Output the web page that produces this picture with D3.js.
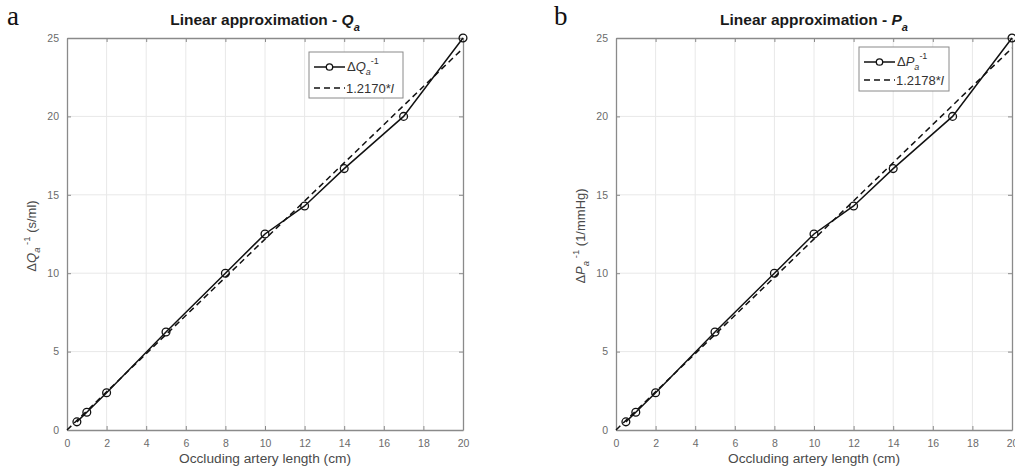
<!DOCTYPE html>
<html>
<head>
<meta charset="utf-8">
<script src="https://cdn.jsdelivr.net/npm/d3@7"></script>
<style>
  body { margin: 0; background: #fff; }
  svg { display: block; }
  text { font-family: "Liberation Sans", Arial, sans-serif; }
</style>
</head>
<body>
<div id="chart"></div>
<script>

// data
let lengths = [0.5, 1, 2, 5, 8, 10, 12, 14, 17, 20];
let dQinv = [0.52, 1.13, 2.38, 6.25, 10, 12.5, 14.29, 16.67, 20, 25];
let dPinv = [0.52, 1.13, 2.38, 6.25, 10, 12.5, 14.29, 16.67, 20, 25];
let slopes = [1.2170, 1.2178];
let xTicks = [0, 2, 4, 6, 8, 10, 12, 14, 16, 18, 20];
let yTicks = [0, 5, 10, 15, 20, 25];

let panels = [
  {letter: "a", sym: "Q", unit: "(s/ml)", values: dQinv, slope: slopes[0], left: 67,
   leg: {x: 309, y: 52, w: 94, h: 46, r1: 15, r2: 36}},
  {letter: "b", sym: "P", unit: "(1/mmHg)", values: dPinv, slope: slopes[1], left: 616,
   leg: {x: 859, y: 47, w: 90, h: 44, r1: 15, r2: 33}}
];

let W = 1015, H = 475;
let plotW = 396, plotTop = 38, plotH = 392;

let svg = d3.select("#chart").append("svg")
  .attr("width", W)
  .attr("height", H);

panels.forEach(p => {

  let g = svg.append("g").attr("transform", "translate(" + p.left + "," + plotTop + ")");

  let x = d3.scaleLinear().domain([0, 20]).range([0, plotW]);
  let y = d3.scaleLinear().domain([0, 25]).range([plotH, 0]);

  // grid
  g.append("g").selectAll("line.gx")
    .data(xTicks.slice(1, -1))
    .enter().append("line")
    .attr("x1", d => x(d)).attr("x2", d => x(d))
    .attr("y1", 0).attr("y2", plotH)
    .attr("stroke", "#e8e8e8").attr("stroke-width", 1);

  g.append("g").selectAll("line.gy")
    .data(yTicks.slice(1, -1))
    .enter().append("line")
    .attr("y1", d => y(d)).attr("y2", d => y(d))
    .attr("x1", 0).attr("x2", plotW)
    .attr("stroke", "#e8e8e8").attr("stroke-width", 1);

  // axes (ticks inward, matlab style)
  let xa = g.append("g").attr("transform", "translate(0," + plotH + ")")
    .call(d3.axisBottom(x).tickValues(xTicks).tickSizeInner(-4).tickSizeOuter(0).tickPadding(10));
  let ya = g.append("g")
    .call(d3.axisLeft(y).tickValues(yTicks).tickSizeInner(-4).tickSizeOuter(0).tickPadding(8));
  let xt = g.append("g")
    .call(d3.axisTop(x).tickValues(xTicks).tickSizeInner(-4).tickSizeOuter(0).tickFormat(""));
  let yr = g.append("g").attr("transform", "translate(" + plotW + ",0)")
    .call(d3.axisRight(y).tickValues(yTicks).tickSizeInner(-4).tickSizeOuter(0).tickFormat(""));

  [xa, ya, xt, yr].forEach(a => {
    a.select(".domain").attr("stroke", "#8a8a8a").attr("stroke-width", 1.3);
    a.selectAll(".tick line").attr("stroke", "#8a8a8a");
    a.selectAll(".tick text").attr("fill", "#6b6b6b").style("font-size", "10.5px");
  });

  // fit line
  let fit = d3.line().x(d => x(d)).y(d => y(p.slope * d));
  g.append("path")
    .datum([0, 20])
    .attr("d", fit)
    .attr("fill", "none")
    .attr("stroke", "#111")
    .attr("stroke-width", 1.5)
    .attr("stroke-dasharray", "6,4");

  // measured
  let pts = lengths.map((l, i) => [l, p.values[i]]);
  let line = d3.line().x(d => x(d[0])).y(d => y(d[1]));
  g.append("path")
    .datum(pts)
    .attr("d", line)
    .attr("fill", "none")
    .attr("stroke", "#111")
    .attr("stroke-width", 1.5);

  g.selectAll("circle.pt")
    .data(pts)
    .enter().append("circle")
    .attr("cx", d => x(d[0]))
    .attr("cy", d => y(d[1]))
    .attr("r", 3.9)
    .attr("fill", "none")
    .attr("stroke", "#111")
    .attr("stroke-width", 1.3);

  // title
  let cx = plotW / 2;
  let t = g.append("text")
    .attr("x", cx).attr("y", -13)
    .attr("text-anchor", "middle")
    .attr("fill", "#1a1a1a")
    .style("font-size", "15.5px")
    .style("font-weight", "bold");
  t.append("tspan").text("Linear approximation - ");
  t.append("tspan").style("font-style", "italic").text(p.sym);
  t.append("tspan").style("font-style", "italic").style("font-size", "11px").attr("dy", 6).text("a");

  // panel letter
  svg.append("text")
    .attr("x", p.left - (p.letter == "a" ? 60 : 62)).attr("y", 25)
    .style("font-family", "'Liberation Serif', 'DejaVu Serif', serif")
    .style("font-size", "27px")
    .attr("fill", "#111")
    .text(p.letter);

  // x label
  g.append("text")
    .attr("x", cx).attr("y", plotH + 33)
    .attr("text-anchor", "middle")
    .attr("fill", "#4a4a4a")
    .style("font-size", "13.7px")
    .text("Occluding artery length (cm)");

  // y label
  let yl = g.append("text")
    .attr("transform", "translate(-31," + (plotH / 2 + 2) + ") rotate(-90)")
    .attr("text-anchor", "middle")
    .attr("fill", "#4a4a4a")
    .style("font-size", "13px");
  yl.append("tspan").text("Δ");
  yl.append("tspan").style("font-style", "italic").text(p.sym);
  yl.append("tspan").style("font-style", "italic").style("font-size", "9.5px").attr("dy", 4).text("a");
  yl.append("tspan").style("font-size", "9.5px").attr("dy", -10).text(" -1");
  yl.append("tspan").attr("dy", 6).text(" " + p.unit);

  // legend
  let L = p.leg;
  let lg = svg.append("g").attr("transform", "translate(" + L.x + "," + L.y + ")");
  lg.append("rect")
    .attr("width", L.w).attr("height", L.h)
    .attr("fill", "#fff")
    .attr("stroke", "#8a8a8a")
    .attr("stroke-width", 1);
  lg.append("line")
    .attr("x1", 5).attr("x2", 36).attr("y1", L.r1).attr("y2", L.r1)
    .attr("stroke", "#111").attr("stroke-width", 1.5);
  lg.append("circle")
    .attr("cx", 20.5).attr("cy", L.r1).attr("r", 3.2)
    .attr("fill", "#fff").attr("stroke", "#111").attr("stroke-width", 1.3);
  lg.append("line")
    .attr("x1", 5).attr("x2", 36).attr("y1", L.r2).attr("y2", L.r2)
    .attr("stroke", "#111").attr("stroke-width", 1.5)
    .attr("stroke-dasharray", "6,4");

  let l1 = lg.append("text").attr("x", 38).attr("y", L.r1 + 4)
    .attr("fill", "#333").style("font-size", "13px");
  l1.append("tspan").text("Δ");
  l1.append("tspan").style("font-style", "italic").text(p.sym);
  l1.append("tspan").style("font-style", "italic").style("font-size", "9px").attr("dy", 4).text("a");
  l1.append("tspan").style("font-size", "9px").attr("dy", -11).text("-1");

  let l2 = lg.append("text").attr("x", 37).attr("y", L.r2 + 4.5)
    .attr("fill", "#333").style("font-size", "13px");
  l2.append("tspan").text(p.slope.toFixed(4) + "*");
  l2.append("tspan").style("font-style", "italic").text("l");
});

</script>
</body>
</html>
